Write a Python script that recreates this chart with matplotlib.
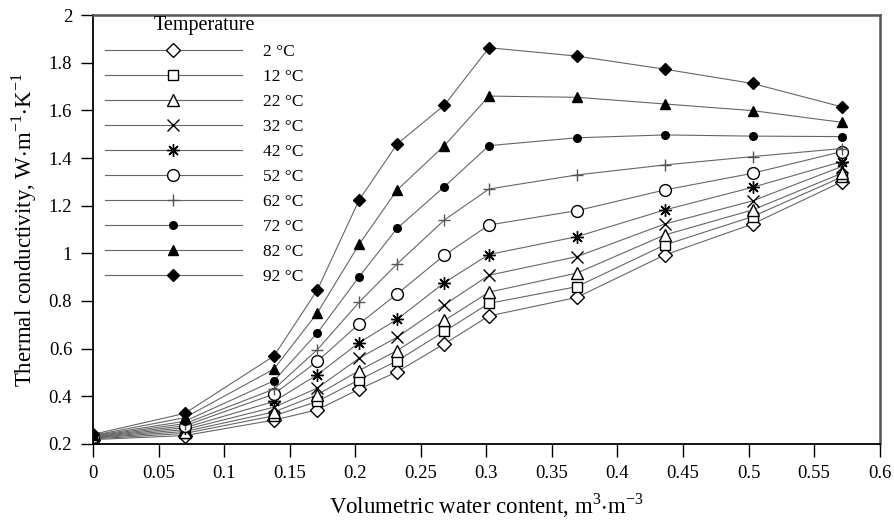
import numpy as np
import matplotlib
matplotlib.use("Agg")
import matplotlib.pyplot as plt

plt.rcParams['font.family'] = ['Liberation Serif', 'DejaVu Serif']
plt.rcParams['mathtext.fontset'] = 'custom'
plt.rcParams['mathtext.rm'] = 'Liberation Serif'

# volumetric water content, m3/m3
theta = [0, 0.07, 0.138, 0.171, 0.203, 0.232, 0.268, 0.302, 0.369, 0.436, 0.503, 0.571]

temps = ["2 °C", "12 °C", "22 °C", "32 °C", "42 °C", "52 °C", "62 °C", "72 °C", "82 °C", "92 °C"]

k_2 = [0.218, 0.235, 0.300, 0.343, 0.430, 0.503, 0.620, 0.737, 0.815, 0.993, 1.123, 1.300]
k_12 = [0.221, 0.244, 0.318, 0.378, 0.469, 0.549, 0.672, 0.790, 0.860, 1.035, 1.154, 1.320]
k_22 = [0.224, 0.252, 0.334, 0.406, 0.508, 0.592, 0.718, 0.837, 0.917, 1.077, 1.182, 1.336]
k_32 = [0.226, 0.260, 0.354, 0.434, 0.560, 0.648, 0.784, 0.908, 0.986, 1.123, 1.220, 1.364]
k_42 = [0.228, 0.268, 0.378, 0.490, 0.625, 0.723, 0.877, 0.995, 1.070, 1.182, 1.277, 1.385]
k_52 = [0.230, 0.276, 0.409, 0.546, 0.704, 0.830, 0.992, 1.119, 1.179, 1.266, 1.336, 1.427]
k_62 = [0.232, 0.285, 0.430, 0.595, 0.795, 0.956, 1.140, 1.270, 1.329, 1.371, 1.406, 1.440]
k_72 = [0.234, 0.295, 0.465, 0.665, 0.902, 1.105, 1.280, 1.452, 1.485, 1.497, 1.492, 1.490]
k_82 = [0.236, 0.310, 0.514, 0.749, 1.038, 1.266, 1.452, 1.660, 1.655, 1.627, 1.599, 1.550]
k_92 = [0.240, 0.328, 0.569, 0.845, 1.224, 1.459, 1.622, 1.863, 1.828, 1.773, 1.713, 1.615]

series = [k_2, k_12, k_22, k_32, k_42, k_52, k_62, k_72, k_82, k_92]

# marker, size, facecolor
styles = [
    ("D", 7.5, "white"),
    ("s", 7.5, "white"),
    ("^", 8, "white"),
    ("x", 8, "black"),
    ((8, 2, 0), 9, "black"),
    ("o", 8.5, "white"),
    ("+", 9, "#555555"),
    ("o", 5.5, "black"),
    ("^", 6.5, "black"),
    ("D", 6, "black"),
]

fig = plt.figure(figsize=(8.94, 5.21), dpi=100)
ax = fig.add_axes([0.104, 0.148, 0.880, 0.823])

for k, lab, (m, ms, fc) in zip(series, temps, styles):
    ec = "#555555" if m == "+" else "black"
    ax.plot(theta, k, color="#666666", lw=0.8, marker=m, ms=ms,
            mfc=fc, mec=ec, mew=1.0, label=lab)

ax.set_xlim(0, 0.6)
ax.set_ylim(0.2, 2)
xt = np.arange(0, 0.61, 0.05)
ax.set_xticks(xt)
ax.set_xticklabels(["%g" % round(v, 2) for v in xt])
yt = np.arange(0.2, 2.01, 0.2)
ax.set_yticks(yt)
ax.set_yticklabels(["%g" % round(v, 1) for v in yt])
ax.tick_params(direction="out", length=9, width=1.0, labelsize=13.5, pad=6)

for s in ["left", "bottom"]:
    ax.spines[s].set_linewidth(1.3)
for s in ["top", "right"]:
    ax.spines[s].set_linewidth(1.8)
    ax.spines[s].set_color("#555555")

ax.set_xlabel(r"Volumetric water content, m$^{\mathregular{3}}$$\mathregular{\cdot}$m$^{\mathregular{-3}}$",
              fontsize=16.5, labelpad=7)
ax.set_ylabel(r"Thermal conductivity, W$\mathregular{\cdot}$m$^{\mathregular{-1}}$$\mathregular{\cdot}$K$^{\mathregular{-1}}$",
              fontsize=16.5, labelpad=7)

leg = ax.legend(loc="upper left", bbox_to_anchor=(0.015, 0.997), frameon=False,
                fontsize=12.5, title="Temperature", title_fontsize=14.5,
                handlelength=7.9, handletextpad=1.2, labelspacing=0.51,
                borderpad=0.0, borderaxespad=0.0)

fig.savefig("out.png", dpi=100)
